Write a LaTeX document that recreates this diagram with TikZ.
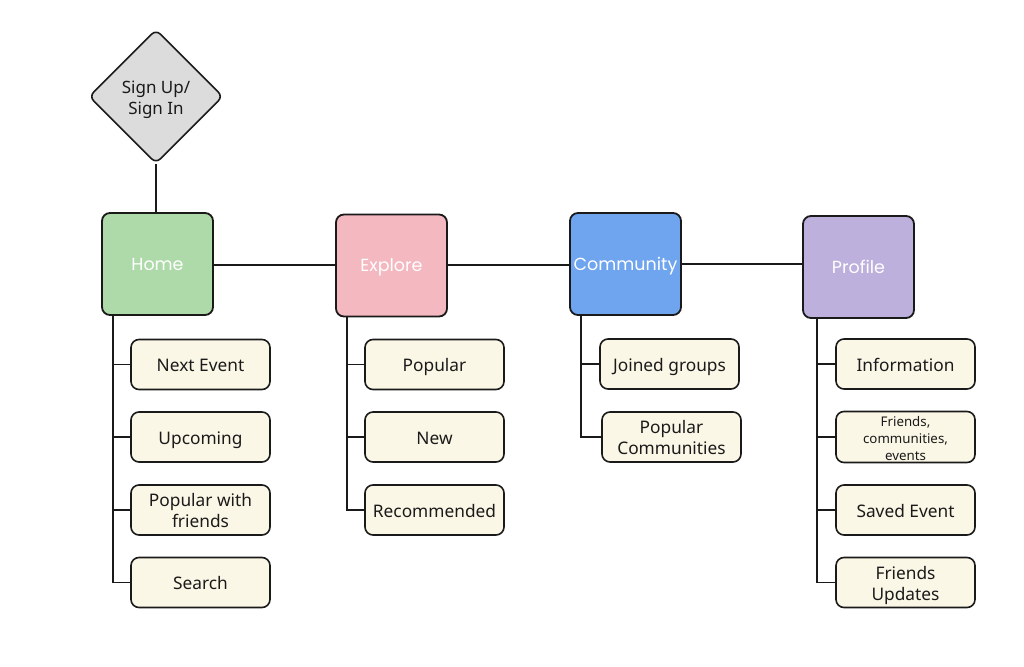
\documentclass[tikz,border=0pt]{standalone}
\usepackage{fontspec}
\setmainfont{Noto Sans}
\newfontfamily\popfont{Poppins}
\usetikzlibrary{shapes.geometric}
\definecolor{homec}{HTML}{AED9A8}
\definecolor{explc}{HTML}{F4B8C0}
\definecolor{commc}{HTML}{6FA5EE}
\definecolor{profc}{HTML}{BDB0DD}
\definecolor{childc}{HTML}{FBF7E6}
\definecolor{signc}{HTML}{DCDCDC}
\definecolor{linec}{HTML}{1A1A1A}
\newcommand\mlines[2]{\raisebox{-#1}[\height][\depth]{\begin{tabular}{@{}c@{}}#2\end{tabular}}}
\tikzset{
  mainbox/.style={draw=linec, line width=1.8pt, rounded corners=8pt, minimum width=111pt, minimum height=102pt, inner sep=0pt, font=\popfont\fontsize{17.5}{20}\selectfont, text=white, text height=14.5pt, text depth=2pt},
  childbase/.style={draw=linec, line width=1.6pt, fill=childc, rounded corners=8pt, minimum width=139pt, minimum height=50pt, inner sep=0pt, font=\fontsize{17.3}{21}\selectfont, text=linec},
  childbox/.style={childbase, text height=19pt, text depth=4.5pt},
  smalltext/.style={font=\fontsize{13.3}{17}\selectfont},
  signbox/.style={draw=linec, line width=1.6pt, fill=signc, diamond, rounded corners=6pt, minimum width=134pt, minimum height=134pt, inner sep=0pt, font=\fontsize{17}{21.5}\selectfont, text=linec},
  conn/.style={draw=linec, line width=1.6pt}
}
\begin{document}
\begin{tikzpicture}[x=1pt,y=-1pt]
\useasboundingbox (0,0) rectangle (1024,666);
\fill[white] (0,0) rectangle (1024,666);
% main nodes
\node[signbox] (sign) at (156,96.5) {\mlines{3.2pt}{Sign Up/\\Sign In}};
\node[mainbox, fill=homec] (home) at (157.5,264) {Home};
\node[mainbox, fill=explc] (explore) at (391.5,265.5) {Explore};
\node[mainbox, fill=commc] (comm) at (625.5,264) {Community};
\node[mainbox, fill=profc] (prof) at (858.5,267) {Profile};
% children
\node[childbox] (h1) at (200.5,364.5) {Next Event};
\node[childbox] (h2) at (200.5,437) {Upcoming};
\node[childbase] (h3) at (200.5,510) {\mlines{2.8pt}{Popular with\\friends}};
\node[childbox] (h4) at (200.5,582.5) {Search};
\node[childbox] (e1) at (434.5,364.5) {Popular};
\node[childbox] (e2) at (434.5,437) {New};
\node[childbox] (e3) at (434.5,510) {Recommended};
\node[childbox] (c1) at (669.5,364) {Joined groups};
\node[childbase] (c2) at (671.5,437) {\mlines{2.8pt}{Popular\\Communities}};
\node[childbox] (p1) at (905.5,364) {Information};
\node[childbase, smalltext] (p2) at (905.5,437) {\mlines{3pt}{Friends,\\communities,\\events}};
\node[childbox] (p3) at (905.5,510) {Saved Event};
\node[childbase] (p4) at (905.5,582.5) {\mlines{2.8pt}{Friends\\Updates}};
% connectors
\draw[conn] (sign.south) -- (home.north -| sign.south);
\draw[conn] (home.east |- 0,265) -- (explore.west |- 0,265);
\draw[conn] (explore.east |- 0,265) -- (comm.west |- 0,265);
\draw[conn] (comm.east |- 0,264) -- (prof.west |- 0,264);
% Home branch
\coordinate (hx) at (113,0);
\draw[conn] (home.south -| hx) |- (h4.west);
\draw[conn] (h1.west -| hx) -- (h1.west);
\draw[conn] (h2.west -| hx) -- (h2.west);
\draw[conn] (h3.west -| hx) -- (h3.west);
% Explore branch
\coordinate (ex) at (347,0);
\draw[conn] (explore.south -| ex) |- (e3.west);
\draw[conn] (e1.west -| ex) -- (e1.west);
\draw[conn] (e2.west -| ex) -- (e2.west);
% Community branch
\coordinate (cx) at (581,0);
\draw[conn] (comm.south -| cx) |- (c2.west);
\draw[conn] (c1.west -| cx) -- (c1.west);
% Profile branch
\coordinate (px) at (817,0);
\draw[conn] (prof.south -| px) |- (p4.west);
\draw[conn] (p1.west -| px) -- (p1.west);
\draw[conn] (p2.west -| px) -- (p2.west);
\draw[conn] (p3.west -| px) -- (p3.west);
\end{tikzpicture}
\end{document}
